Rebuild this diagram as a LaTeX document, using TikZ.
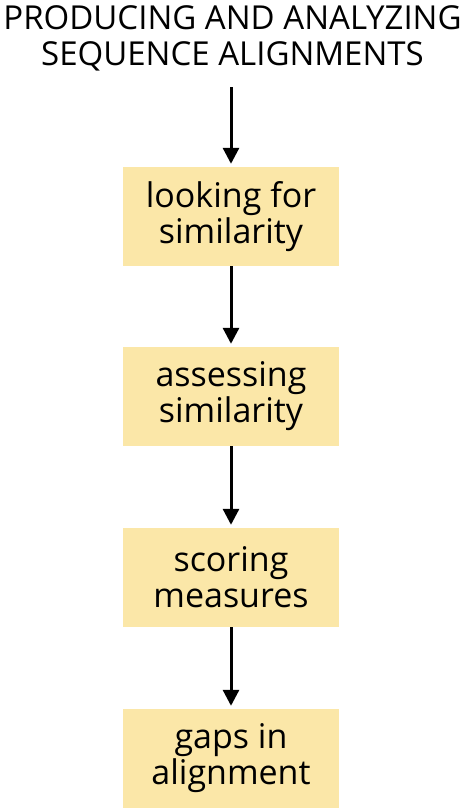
\documentclass[tikz,border=0pt]{standalone}
\usepackage{fontspec}
\setmainfont{Open Sans}
\usepackage{tikz}
\usetikzlibrary{arrows.meta}

\definecolor{stepfill}{RGB}{251,231,168}
\tikzset{
  stepbox/.style={fill=stepfill,minimum width=216pt,minimum height=99pt,align=center,inner sep=0pt,
    font=\fontsize{34}{36}\selectfont},
  flow/.style={line width=3pt,-{Triangle[length=16pt,width=16pt]}}
}

\begin{document}
\begin{tikzpicture}[x=1pt,y=1pt]
  \useasboundingbox (0,0) rectangle (465,-809);
  \node[align=center,font=\fontsize{33}{36}\selectfont] (title) at (232.5,-38) {PRODUCING AND ANALYZING\\SEQUENCE ALIGNMENTS};
  % the four steps, top to bottom
  \node[stepbox] (look) at (231,-216.5) {looking for\\similarity};
  \node[stepbox] (assess) at (231,-396.5) {assessing\\similarity};
  \node[stepbox] (score) at (231,-577.5) {scoring\\measures};
  \node[stepbox] (gaps) at (231,-758.5) {gaps in\\alignment};
  \coordinate (top) at (231,-87);
  \draw[flow] (top) -- ([yshift=3pt]look.north);
  \draw[flow] (look) -- ([yshift=3pt]assess.north);
  \draw[flow] (assess) -- ([yshift=3pt]score.north);
  \draw[flow] (score) -- ([yshift=3pt]gaps.north);
\end{tikzpicture}
\end{document}
